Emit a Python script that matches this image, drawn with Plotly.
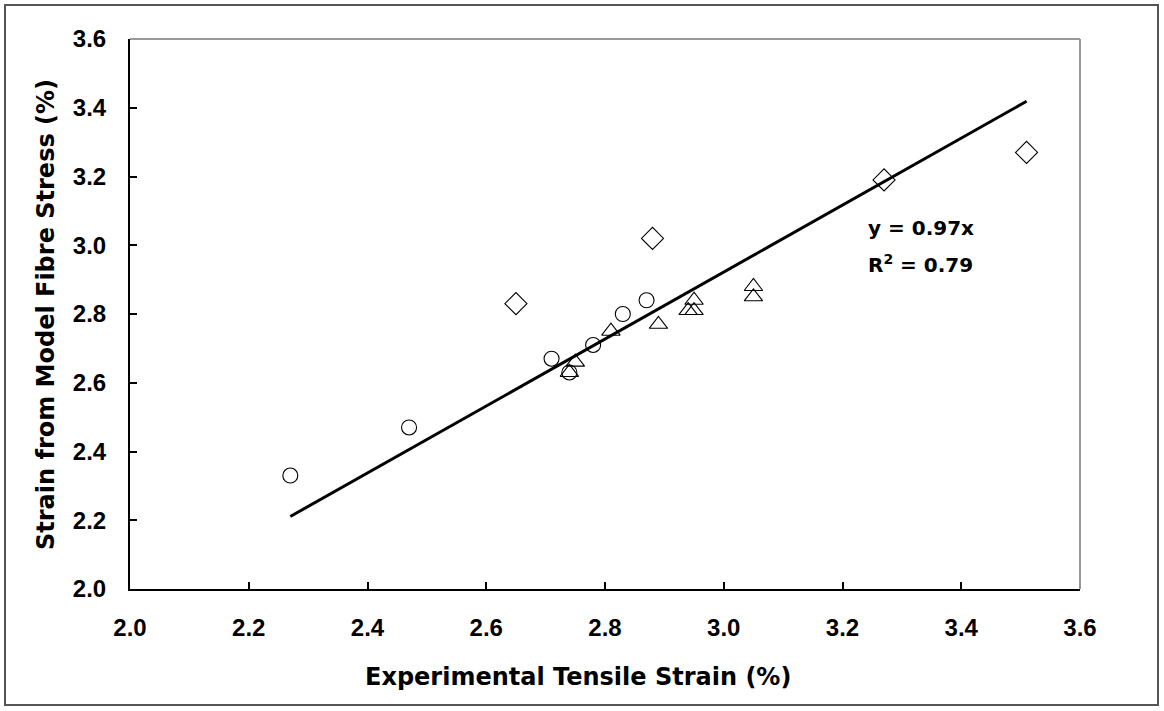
import plotly.graph_objects as go

# Data
circle_x = [2.27, 2.47, 2.71, 2.74, 2.78, 2.83, 2.87]
circle_y = [2.33, 2.47, 2.67, 2.63, 2.71, 2.80, 2.84]

triangle_x = [2.74, 2.75, 2.81, 2.89, 2.94, 2.95, 2.95, 3.05, 3.05]
triangle_y = [2.63, 2.66, 2.75, 2.77, 2.81, 2.81, 2.84, 2.88, 2.85]

diamond_x = [2.65, 2.88, 3.27, 3.51]
diamond_y = [2.83, 3.02, 3.19, 3.27]

slope = 0.974
trend_x = [2.27, 3.51]
trend_y = [slope * v for v in trend_x]

tick_vals = [2.0, 2.2, 2.4, 2.6, 2.8, 3.0, 3.2, 3.4, 3.6]
tick_text = ["2.0", "2.2", "2.4", "2.6", "2.8", "3.0", "3.2", "3.4", "3.6"]

TICKFONT = "Liberation Sans, Arial, sans-serif"
TITLEFONT = "DejaVu Sans, Verdana, sans-serif"

fig = go.Figure()
fig.add_trace(go.Scatter(x=trend_x, y=trend_y, mode="lines",
                         line=dict(color="black", width=3), showlegend=False))
fig.add_trace(go.Scatter(x=circle_x, y=circle_y, mode="markers",
                         marker=dict(symbol="circle-open", size=15, color="black",
                                     line=dict(width=1.1, color="black")), showlegend=False))
fig.add_trace(go.Scatter(x=triangle_x, y=triangle_y, mode="markers",
                         marker=dict(symbol="triangle-up-open", size=16, color="black",
                                     line=dict(width=1.1, color="black")), showlegend=False))
fig.add_trace(go.Scatter(x=diamond_x, y=diamond_y, mode="markers",
                         marker=dict(symbol="diamond-open", size=17, color="black",
                                     line=dict(width=1.1, color="black")), showlegend=False))

W, H = 1164, 711
L, R, T, B = 130, 84, 39, 122
pw, ph = W - L - R, H - T - B

def px_x(p):
    return (p - L) / pw

def px_y(p):
    return (H - B - p) / ph

fig.update_layout(
    width=W, height=H,
    margin=dict(l=L, r=R, t=T, b=B),
    paper_bgcolor="white", plot_bgcolor="white",
    font=dict(family=TICKFONT, size=24, color="black"),
    xaxis=dict(range=[2.0, 3.6], tickvals=tick_vals, ticktext=tick_text,
               ticks="inside", ticklen=7, tickwidth=1.5, tickcolor="black",
               showline=True, linecolor="black", linewidth=2,
               showgrid=False, zeroline=False,
               tickfont=dict(family=TICKFONT, size=24, color="black", weight="bold"),
               ticklabelstandoff=16),
    yaxis=dict(range=[2.0, 3.6], tickvals=tick_vals, ticktext=tick_text,
               ticks="inside", ticklen=7, tickwidth=1.5, tickcolor="black",
               showline=True, linecolor="black", linewidth=2,
               showgrid=False, zeroline=False,
               tickfont=dict(family=TICKFONT, size=24, color="black", weight="bold"),
               ticklabelstandoff=17),
    shapes=[
        dict(type="line", xref="paper", yref="paper", x0=0, x1=1, y0=1, y1=1,
             line=dict(color="#999999", width=2)),
        dict(type="line", xref="paper", yref="paper", x0=1, x1=1, y0=0, y1=1,
             line=dict(color="#999999", width=2)),
        dict(type="rect", xref="paper", yref="paper",
             x0=px_x(5), x1=px_x(1158), y0=px_y(705), y1=px_y(5),
             line=dict(color="#555555", width=2), fillcolor="rgba(0,0,0,0)", layer="below"),
    ],
    annotations=[
        dict(x=px_x(578), y=px_y(677), xref="paper", yref="paper",
             text="<b>Experimental Tensile Strain (%)</b>",
             showarrow=False, xanchor="center", yanchor="middle",
             font=dict(family=TITLEFONT, size=24, color="black")),
        dict(x=px_x(46), y=px_y(315), xref="paper", yref="paper",
             text="<b>Strain from Model Fibre Stress (%)</b>", textangle=-90,
             showarrow=False, xanchor="center", yanchor="middle",
             font=dict(family=TITLEFONT, size=24, color="black")),
        dict(x=3.24, y=3.05, xref="x", yref="y", text="<b>y = 0.97x</b>",
             showarrow=False, xanchor="left", yanchor="middle",
             font=dict(family=TITLEFONT, size=20, color="black")),
        dict(x=3.24, y=2.945, xref="x", yref="y", text="<b>R<sup>2</sup> = 0.79</b>",
             showarrow=False, xanchor="left", yanchor="middle",
             font=dict(family=TITLEFONT, size=20, color="black")),
    ],
)

fig.write_html("out.html")
